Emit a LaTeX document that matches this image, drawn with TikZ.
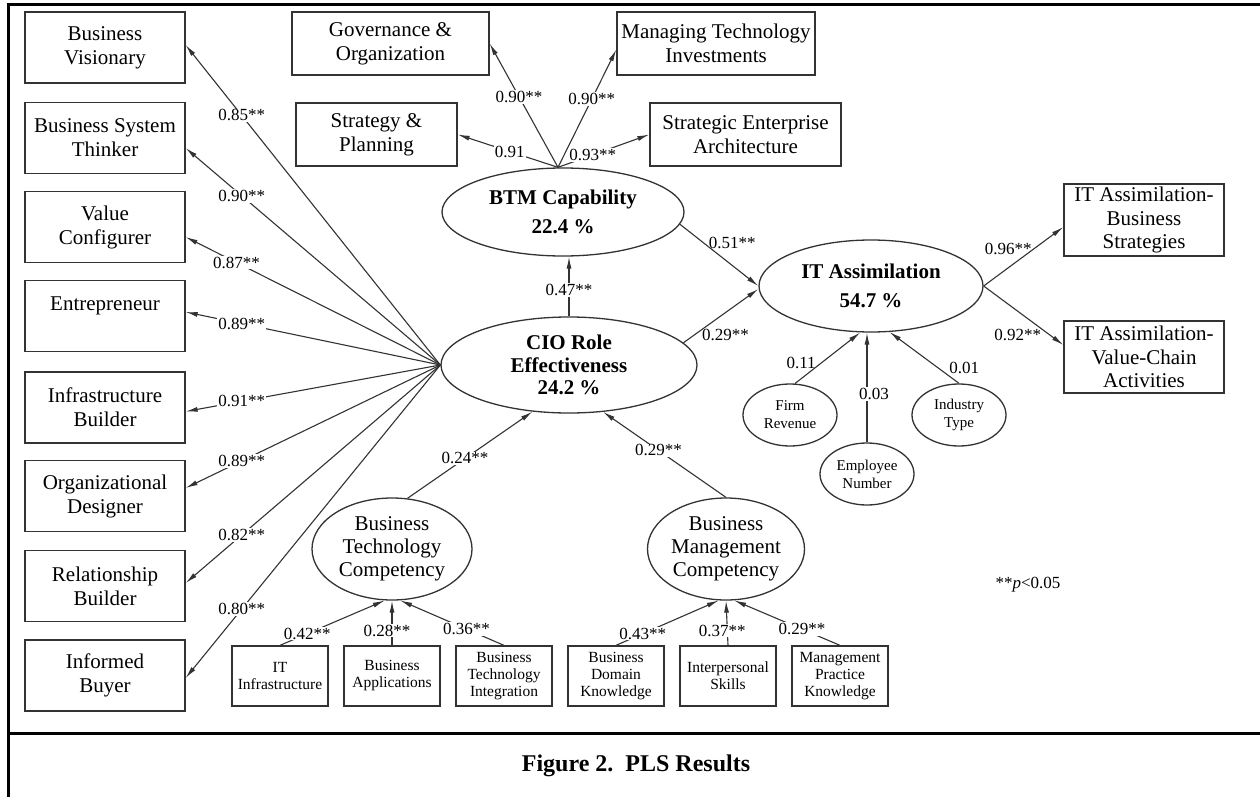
\documentclass[tikz,border=0pt]{standalone}
\usepackage{fontspec}
\setmainfont{Liberation Serif}
\usetikzlibrary{shapes.geometric,arrows.meta}

\begin{document}
\begin{tikzpicture}[x=1pt, y=-1pt,
        role/.style={rectangle, draw=black!80, line width=1.3pt, minimum width=160pt, minimum height=71pt, align=center, inner sep=2pt, font=\fontsize{21}{24}\selectfont},
        dim/.style={rectangle, draw=black!80, line width=1.3pt, minimum height=63pt, align=center, inner sep=2pt, font=\fontsize{21}{24}\selectfont},
        outcome/.style={rectangle, draw=black!80, line width=1.3pt, minimum width=160pt, minimum height=72pt, align=center, inner sep=2pt, font=\fontsize{21}{23.5}\selectfont},
        indicator/.style={rectangle, draw=black!80, line width=1.3pt, minimum width=96pt, minimum height=60pt, align=center, inner sep=1pt, font=\fontsize{15.5}{17}\selectfont},
        construct/.style={ellipse, draw=black!80, line width=1.3pt, inner sep=0pt, align=center, font=\fontsize{21}{22.5}\selectfont\bfseries},
        latent/.style={ellipse, draw=black!80, line width=1.3pt, inner sep=0pt, align=center, font=\fontsize{21}{23}\selectfont},
        control/.style={ellipse, draw=black!80, line width=1.3pt, inner sep=0pt, minimum width=94pt, minimum height=62pt, align=center, font=\fontsize{15}{18}\selectfont},
        link/.style={draw=black!80, line width=1.1pt, -{Latex[length=12pt,width=5pt]}},
        coef/.style={fill=white, inner sep=1pt, font=\fontsize{17}{20}\selectfont}
    ]
        \useasboundingbox (0,0) rectangle (1260,797);
        \fill[white] (0,0) rectangle (1260,797);

        % Frame and caption
        \draw[line width=3pt] (8,5) rectangle (1280,820);
        \draw[line width=3pt] (8,733) -- (1280,733);
        \node[font=\fontsize{24}{28}\selectfont\bfseries] (caption) at (636,766) {Figure 2.\ \ PLS Results};

        % CIO roles
        \node[role] (visionary) at (105,47.5) {Business\\Visionary};
        \node[role] (thinker) at (105,138) {Business System\\Thinker};
        \node[role] (configurer) at (105,227) {Value\\Configurer};
        \node[role] (entrepreneur) at (105,316) {Entrepreneur\\\mbox{}};
        \node[role] (builder) at (105,407.5) {Infrastructure\\Builder};
        \node[role] (designer) at (105,496) {Organizational\\Designer};
        \node[role] (relation) at (105,586) {Relationship\\Builder};
        \node[role] (buyer) at (105,675.5) {Informed\\Buyer};

        % BTM dimensions
        \node[dim, minimum width=197pt] (gov) at (390.5,43.5) {Governance \&\\Organization};
        \node[dim, minimum width=161pt] (plan) at (376.5,134.5) {Strategy \&\\Planning};
        \node[dim, minimum width=198pt] (invest) at (716,43.5) {Managing Technology\\Investments};
        \node[dim, minimum width=191pt] (arch) at (745.5,134.5) {Strategic Enterprise\\Architecture};

        % Constructs
        \node[construct, minimum width=242pt, minimum height=88pt] (btm) at (563,212) {BTM Capability\\[6pt]22.4 \%};
        \node[construct, minimum width=256pt, minimum height=96pt] (cio) at (569,365) {CIO Role\\Effectiveness\\24.2 \%};
        \node[construct, minimum width=224pt, minimum height=92pt] (ita) at (871,286) {IT Assimilation\\[6pt]54.7 \%};
        \node[latent, minimum width=160pt, minimum height=102pt] (btc) at (392,549) {Business\\Technology\\Competency};
        \node[latent, minimum width=157pt, minimum height=102pt] (bmc) at (726,549) {Business\\Management\\Competency};
        \coordinate (btmtop) at ([xshift=-5pt]btm.north);

        % Controls
        \node[control] (revenue) at (790,415) {Firm\\Revenue};
        \node[control] (employee) at (867,474) {Employee\\Number};
        \node[control] (industry) at (959,415) {Industry\\Type};

        % Outcomes
        \node[outcome] (strategies) at (1144,220) {IT Assimilation-\\Business\\Strategies};
        \node[outcome] (chain) at (1144,357) {IT Assimilation-\\Value-Chain\\Activities};

        % Competency indicators
        \node[indicator] (itinfra) at (280,676) {IT\\Infrastructure};
        \node[indicator] (apps) at (392,676) {Business\\Applications};
        \node[indicator] (integ) at (504,676) {Business\\Technology\\Integration};
        \node[indicator] (domain) at (616,676) {Business\\Domain\\Knowledge};
        \node[indicator] (skills) at (728,676) {Interpersonal\\Skills};
        \node[indicator] (practice) at (840,676) {Management\\Practice\\Knowledge};

        \node[font=\fontsize{17}{20}\selectfont] (note) at (1028,585) {**\textit{p}<0.05};

        % Role loadings
        \draw[link] (cio.west) -- ([yshift=2.5pt]visionary.east) node[coef, pos=0.78] {0.85**};
        \draw[link] (cio.west) -- ([yshift=-10pt]thinker.east) node[coef, pos=0.78] {0.90**};
        \draw[link] (cio.west) -- ([yshift=-10pt]configurer.east) node[coef, pos=0.80] {0.87**};
        \draw[link] (cio.west) -- ([yshift=4pt]entrepreneur.east) node[coef, pos=0.78] {0.89**};
        \draw[link] (cio.west) -- ([yshift=-4pt]builder.east) node[coef, pos=0.78] {0.91**};
        \draw[link] (cio.west) -- ([yshift=8pt]designer.east) node[coef, pos=0.78] {0.89**};
        \draw[link] (cio.west) -- ([yshift=3pt]relation.east) node[coef, pos=0.78] {0.82**};
        \draw[link] (cio.west) -- ([yshift=-2.5pt]buyer.east) node[coef, pos=0.78] {0.80**};

        % BTM loadings
        \draw[link] (btmtop) -- (gov.east) node[coef, pos=0.57] {0.90**};
        \draw[link] (btmtop) -- ([yshift=-6pt]invest.west) node[coef, pos=0.58] {0.90**};
        \draw[link] (btmtop) -- (plan.east) node[coef, pos=0.48] {0.91};
        \draw[link] (btmtop) -- (arch.west) node[coef, pos=0.38] {0.93**};

        % Structural paths
        \draw[link] (cio.north) -- (cio.north |- btm.south) node[coef, pos=0.44] {0.47**};
        \draw[link] (btm.-6) -- (ita.west) node[coef, fill=none, pos=0.35, anchor=west, yshift=3pt] {0.51**};
        \draw[link] (cio.11) -- ([yshift=-3pt]ita.west) node[coef, fill=none, pos=0.23, anchor=west, yshift=-5pt] {0.29**};
        \draw[link] (btc.73) -- (cio.-128) node[coef, pos=0.46] {0.24**};
        \draw[link] (bmc.north) -- (cio.-54) node[coef, pos=0.55] {0.29**};

        % Indicator weights
        \draw[link] (itinfra.north) -- (btc.-98) node[coef, pos=0.26] {0.42**};
        \draw[link] (apps.north) -- (btc.south) node[coef, pos=0.33, xshift=-5pt] {0.28**};
        \draw[link] (integ.north) -- (btc.-81) node[coef, pos=0.36] {0.36**};
        \draw[link] (domain.north) -- (bmc.-98) node[coef, pos=0.26] {0.43**};
        \draw[link] (skills.north) -- (bmc.south) node[coef, pos=0.33, xshift=-5pt] {0.37**};
        \draw[link] (practice.north) -- (bmc.-81) node[coef, pos=0.36] {0.29**};

        % Outcome loadings
        \draw[link] (ita.east) -- ([yshift=-7pt]strategies.west) node[coef, fill=none, pos=0.62, anchor=east] {0.96**};
        \draw[link] (ita.east) -- ([yshift=12pt]chain.west) node[coef, fill=none, pos=0.74, anchor=east, yshift=-5pt] {0.92**};

        % Controls
        \draw[link] (revenue.81) -- (ita.-103) node[coef, fill=none, pos=0.34, anchor=east, yshift=3pt] {0.11};
        \draw[link] (employee.north) -- (employee.north |- ita.south) node[coef, pos=0.44, xshift=7pt] {0.03};
        \draw[link] (industry.north) -- (ita.-68) node[coef, fill=none, pos=0.16, anchor=south west] {0.01};
    \end{tikzpicture}
\end{document}
